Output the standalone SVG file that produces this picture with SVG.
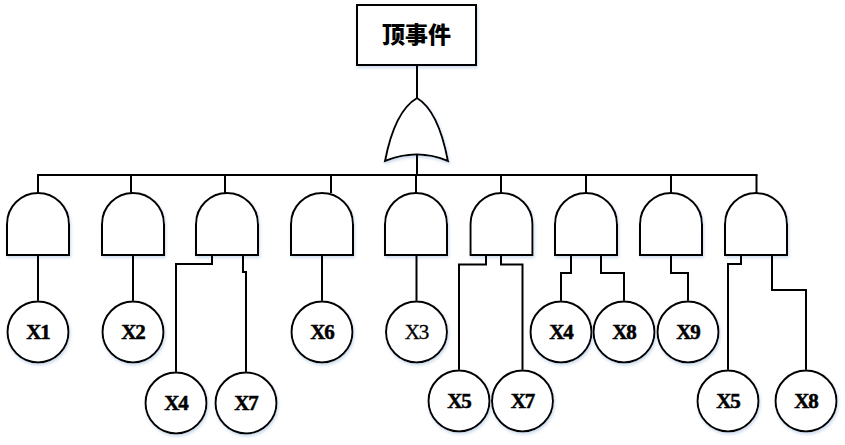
<svg xmlns="http://www.w3.org/2000/svg" xmlns:xlink="http://www.w3.org/1999/xlink" width="845" height="445" viewBox="0 0 845 445">
<defs>
<filter id="sh" x="-20%" y="-20%" width="140%" height="140%">
<feDropShadow dx="1" dy="2" stdDeviation="1.5" flood-color="#b9cde5" flood-opacity="0.7"/>
</filter>
<path id="and" d="M-31,255 V224 A31,31 0 0 1 31,224 V255 Z"/>
</defs>
<style>
.s{fill:#fff;stroke:#000;stroke-width:2;filter:url(#sh)}
.c{fill:none;stroke:#000;stroke-width:2}
.t{font-family:"Liberation Serif","DejaVu Serif",serif;font-weight:bold;font-size:21px;text-anchor:middle;letter-spacing:-1px;stroke:#000;stroke-width:0.5}
.n{font-weight:normal;stroke-width:0.3}
.tt{font-family:"Noto Sans CJK SC",sans-serif;font-weight:900;font-size:23px;text-anchor:middle}
</style>
<g id="top">
<rect class="s" x="357" y="5" width="119" height="60"/>
<text class="tt" x="416.5" y="43">顶事件</text>
</g>
<g id="or">
<path class="s" d="M417,98 C400,108 390,135 385,161 Q417,148 448,161 C443,135 434,108 417,98 Z"/>
</g>
<g id="gates">
<use class="s" href="#and" xlink:href="#and" x="38"/>
<use class="s" href="#and" xlink:href="#and" x="133"/>
<use class="s" href="#and" xlink:href="#and" x="227"/>
<use class="s" href="#and" xlink:href="#and" x="322"/>
<use class="s" href="#and" xlink:href="#and" x="416"/>
<use class="s" href="#and" xlink:href="#and" x="501.5"/>
<use class="s" href="#and" xlink:href="#and" x="586"/>
<use class="s" href="#and" xlink:href="#and" x="671"/>
<use class="s" href="#and" xlink:href="#and" x="756"/>
</g>
<g id="connectors" class="c">
<path d="M417,65 V98 M417,155 V175 M37,175 H757.5"/>
<path d="M38,174 V193 M131,175 V193 M225,175 V193 M331,175 V193 M416,175 V193 M501,175 V193 M586,175 V193 M671,175 V193 M756.5,175 V193"/>
<path d="M38,255 V301.5 M133,255 V301.5 M322,255 V301.5 M416.5,255 V301.5"/>
<path d="M212,255 V264 H176 V372.5 M243,255 V272 H246 V372.5"/>
<path d="M486,255 V264.5 H459 V370.5 M501,255 V264.5 H522.5 V370.5"/>
<path d="M571,255 V273 H561 V301.5 M601,255 V273 H624 V301.5"/>
<path d="M671,255 V273 H688 V301.5"/>
<path d="M741,255 V264 H728 V370.5 M772,255 V290 H806 V370.5"/>
</g>
<g id="x1"><circle class="s" cx="38" cy="332" r="30.5"/><text class="t" x="38" y="339">X1</text></g>
<g id="x2"><circle class="s" cx="133" cy="332" r="30.5"/><text class="t" x="133" y="339">X2</text></g>
<g id="x6"><circle class="s" cx="322" cy="332" r="30.5"/><text class="t" x="322" y="339">X6</text></g>
<g id="x3"><circle class="s" cx="416.5" cy="332" r="30.5"/><text class="t n" x="416.5" y="339">X3</text></g>
<g id="x4a"><circle class="s" cx="561" cy="332" r="30.5"/><text class="t" x="561" y="339">X4</text></g>
<g id="x8a"><circle class="s" cx="624" cy="332" r="30.5"/><text class="t" x="624" y="339">X8</text></g>
<g id="x9"><circle class="s" cx="688" cy="332" r="30.5"/><text class="t" x="688" y="339">X9</text></g>
<g id="x4b"><circle class="s" cx="176" cy="403" r="30.5"/><text class="t" x="176" y="410">X4</text></g>
<g id="x7a"><circle class="s" cx="246" cy="403" r="30.5"/><text class="t" x="246" y="410">X7</text></g>
<g id="x5a"><circle class="s" cx="459" cy="401" r="30.5"/><text class="t" x="459" y="408">X5</text></g>
<g id="x7b"><circle class="s" cx="522.5" cy="401" r="30.5"/><text class="t" x="522.5" y="408">X7</text></g>
<g id="x5b"><circle class="s" cx="728" cy="401" r="30.5"/><text class="t" x="728" y="408">X5</text></g>
<g id="x8b"><circle class="s" cx="806" cy="401" r="30.5"/><text class="t" x="806" y="408">X8</text></g>
</svg>
